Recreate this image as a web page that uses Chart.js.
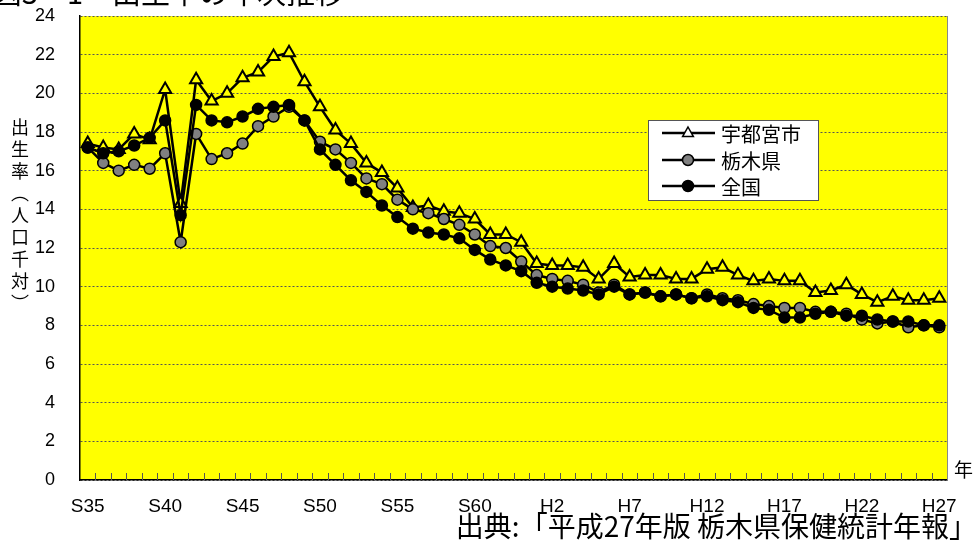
<!DOCTYPE html>
<html>
<head>
<meta charset="utf-8">
<script src="https://cdn.jsdelivr.net/npm/chart.js@4"></script>
<style>
body { margin: 0; background: #fff; }
</style>
</head>
<body>
<canvas id="birthChart" width="977" height="545"></canvas>
<script>
// 年 (S35〜S63, H1〜H27)
const years = [
    'S35','S36','S37','S38','S39','S40','S41','S42','S43','S44',
    'S45','S46','S47','S48','S49','S50','S51','S52','S53','S54',
    'S55','S56','S57','S58','S59','S60','S61','S62','S63','H1',
    'H2','H3','H4','H5','H6','H7','H8','H9','H10','H11',
    'H12','H13','H14','H15','H16','H17','H18','H19','H20','H21',
    'H22','H23','H24','H25','H26','H27'
];

const utsunomiya = [
    17.4, 17.2, 17.1, 17.9, 17.6, 20.2, 14.3, 20.7, 19.6, 20.0,
    20.8, 21.1, 21.9, 22.1, 20.6, 19.3, 18.1, 17.4, 16.4, 15.9,
    15.1, 14.1, 14.2, 13.9, 13.8, 13.5, 12.7, 12.7, 12.3, 11.2,
    11.1, 11.1, 11.0, 10.4, 11.2, 10.5, 10.6, 10.6, 10.4, 10.4,
    10.9, 11.0, 10.6, 10.3, 10.4, 10.3, 10.3, 9.7, 9.8, 10.1,
    9.6, 9.2, 9.5, 9.3, 9.3, 9.4
];

const tochigi = [
    17.2, 16.4, 16.0, 16.3, 16.1, 16.9, 12.3, 17.9, 16.6, 16.9,
    17.4, 18.3, 18.8, 19.3, 18.6, 17.5, 17.1, 16.4, 15.6, 15.3,
    14.5, 14.0, 13.8, 13.5, 13.2, 12.7, 12.1, 12.0, 11.3, 10.6,
    10.4, 10.3, 10.1, 9.7, 10.1, 9.6, 9.7, 9.5, 9.6, 9.4,
    9.6, 9.4, 9.3, 9.1, 9.0, 8.9, 8.9, 8.7, 8.7, 8.6,
    8.3, 8.1, 8.2, 7.9, 8.0, 7.9
];

const zenkoku = [
    17.2, 16.9, 17.0, 17.3, 17.7, 18.6, 13.7, 19.4, 18.6, 18.5,
    18.8, 19.2, 19.3, 19.4, 18.6, 17.1, 16.3, 15.5, 14.9, 14.2,
    13.6, 13.0, 12.8, 12.7, 12.5, 11.9, 11.4, 11.1, 10.8, 10.2,
    10.0, 9.9, 9.8, 9.6, 10.0, 9.6, 9.7, 9.5, 9.6, 9.4,
    9.5, 9.3, 9.2, 8.9, 8.8, 8.4, 8.4, 8.6, 8.7, 8.5,
    8.5, 8.3, 8.2, 8.2, 8.0, 8.0
];

const seriesNames = ['宇都宮市', '栃木県', '全国'];
const yTicks = [0, 2, 4, 6, 8, 10, 12, 14, 16, 18, 20, 22, 24];

const JP = '"Noto Sans CJK JP", sans-serif';
const NUM = '"Liberation Sans", Arial, sans-serif';

const decorPlugin = {
    id: 'decor',
    beforeDraw(chart) {
        const { ctx, chartArea: a } = chart;
        ctx.save();
        ctx.fillStyle = '#fff';
        ctx.fillRect(0, 0, chart.width, chart.height);
        ctx.fillStyle = '#FFFF00';
        ctx.fillRect(a.left, a.top, a.right - a.left, a.bottom - a.top);
        ctx.restore();
    },
    beforeDatasetsDraw(chart) {
        const { ctx, chartArea: a } = chart;
        ctx.save();
        // 目盛り (内向き)
        ctx.strokeStyle = '#555';
        ctx.lineWidth = 1;
        const step = (a.right - a.left) / years.length;
        for (let k = 1; k < years.length; k++) {
            const x = Math.round(a.left + k * step) + 0.5;
            ctx.beginPath();
            ctx.moveTo(x, a.bottom);
            ctx.lineTo(x, a.bottom - 7);
            ctx.stroke();
        }
        // 右枠
        ctx.strokeStyle = '#888';
        ctx.beginPath();
        ctx.moveTo(a.right + 0.5, a.top);
        ctx.lineTo(a.right + 0.5, a.bottom);
        ctx.stroke();
        ctx.restore();
    },
    afterDraw(chart) {
        const { ctx } = chart;
        ctx.save();
        ctx.fillStyle = '#000';

        // タイトル (上が切れている) - 「出」が x=112 から始まるように置く
        ctx.font = '29px ' + JP;
        ctx.textAlign = 'left';
        ctx.textBaseline = 'ideographic';
        const pre = '図3－1　';
        const preW = ctx.measureText(pre).width;
        ctx.fillText(pre + '出生率の年次推移', 112 - preW, 7);

        // 縦書きの軸タイトル
        ctx.font = '18px ' + JP;
        ctx.textAlign = 'center';
        ctx.textBaseline = 'middle';
        const chars = ['出', '生', '率', '︵', '人', '口', '千', '対', '︶'];
        chars.forEach((ch, i) => ctx.fillText(ch, 20, 127 + i * 22));

        // 年
        ctx.font = '19px ' + JP;
        ctx.textAlign = 'left';
        ctx.fillText('年', 954, 470);

        // 出典
        ctx.font = '28px ' + JP;
        ctx.textAlign = 'right';
        ctx.fillText('出典:「平成27年版 栃木県保健統計年報」', 977, 526);

        // 凡例
        const lx = 648, ly = 120, lw = 170, lh = 80;
        ctx.fillStyle = '#fff';
        ctx.fillRect(lx, ly, lw, lh);
        ctx.strokeStyle = '#555';
        ctx.lineWidth = 1;
        ctx.strokeRect(lx + 0.5, ly + 0.5, lw, lh);
        const rows = [133, 160, 186];
        chart.data.datasets.forEach((ds, i) => {
            const y = rows[i];
            ctx.strokeStyle = '#000';
            ctx.lineWidth = 2.5;
            ctx.beginPath();
            ctx.moveTo(662, y);
            ctx.lineTo(715, y);
            ctx.stroke();
            ctx.lineWidth = 1.5;
            ctx.fillStyle = i === 0 ? '#fff' : ds.backgroundColor;
            ctx.beginPath();
            if (ds.pointStyle === 'triangle') {
                const r = 6;
                ctx.moveTo(688, y - r);
                ctx.lineTo(688 + r * 0.9, y + r * 0.6);
                ctx.lineTo(688 - r * 0.9, y + r * 0.6);
                ctx.closePath();
            } else {
                ctx.arc(688, y, 5.5, 0, Math.PI * 2);
            }
            ctx.fill();
            ctx.stroke();
            ctx.fillStyle = '#000';
            ctx.font = '20px ' + JP;
            ctx.textAlign = 'left';
            ctx.textBaseline = 'middle';
            ctx.fillText(ds.label, 721, y + 1);
        });
        ctx.restore();
    }
};

const ctx = document.getElementById('birthChart').getContext('2d');
const chart = new Chart(ctx, {
    type: 'line',
    data: {
        labels: years,
        datasets: [
            {
                label: seriesNames[0],
                data: utsunomiya,
                borderColor: '#000',
                borderWidth: 2.5,
                backgroundColor: '#FFFF00',
                pointStyle: 'triangle',
                pointRadius: 7,
                pointBorderWidth: 2,
                pointBorderColor: '#000',
                tension: 0,
                order: 3
            },
            {
                label: seriesNames[1],
                data: tochigi,
                borderColor: '#000',
                borderWidth: 2.5,
                backgroundColor: '#808080',
                pointStyle: 'circle',
                pointRadius: 5.5,
                pointBorderWidth: 1.5,
                pointBorderColor: '#000',
                tension: 0,
                order: 2
            },
            {
                label: seriesNames[2],
                data: zenkoku,
                borderColor: '#000',
                borderWidth: 2.5,
                backgroundColor: '#000',
                pointStyle: 'circle',
                pointRadius: 5.5,
                pointBorderWidth: 1.5,
                pointBorderColor: '#000',
                tension: 0,
                order: 1
            }
        ]
    },
    options: {
        responsive: false,
        animation: false,
        devicePixelRatio: 1,
        layout: { autoPadding: false, padding: { left: 0, right: 30, top: 16, bottom: 0 } },
        plugins: {
            legend: { display: false },
            tooltip: { enabled: false }
        },
        scales: {
            x: {
                offset: true,
                grid: { display: false },
                border: { display: true, color: '#000', width: 1.5 },
                ticks: {
                    autoSkip: false,
                    maxRotation: 0,
                    color: '#000',
                    padding: 7,
                    font: { family: NUM, size: 19 },
                    callback: (v, i) => (i % 5 === 0 ? years[i] : '')
                },
                afterFit: (scale) => { scale.height = 65; }
            },
            y: {
                min: 0,
                max: 24,
                afterBuildTicks: (scale) => { scale.ticks = yTicks.map(v => ({ value: v })); },
                grid: { color: '#555', lineWidth: 1, drawTicks: false },
                border: { display: true, color: '#000', width: 1.5, dash: [2, 2] },
                ticks: {
                    color: '#000',
                    padding: 25,
                    font: { family: NUM, size: 18 }
                },
                afterFit: (scale) => {
                    scale.width = 80;
                    // ラベル分の上下余白は使わない
                    scale.paddingTop = 0;
                    scale.paddingBottom = 0;
                }
            }
        }
    },
    plugins: [decorPlugin]
});
</script>
</body>
</html>
